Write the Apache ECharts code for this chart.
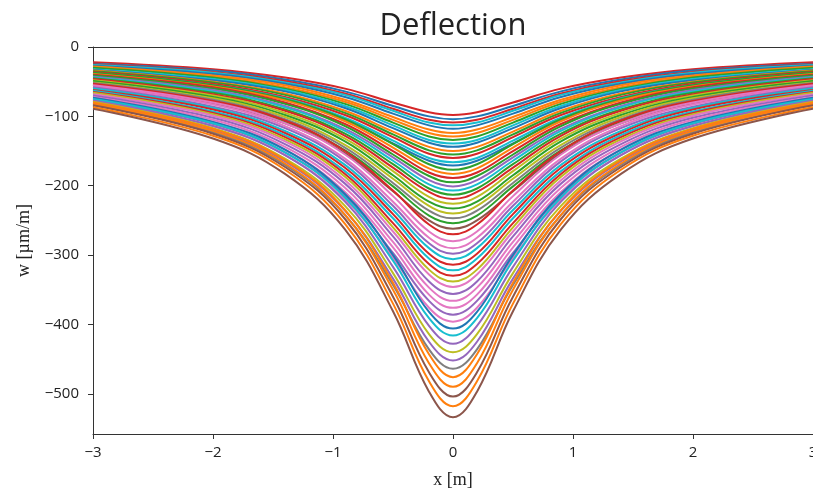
<!DOCTYPE html>
<html><head><meta charset="utf-8">
<script src="https://cdn.jsdelivr.net/npm/echarts@6/dist/echarts.min.js"></script>
<style>html,body{margin:0;padding:0;background:#fff}#c{width:813px;height:489px}</style>
</head><body><div id="c"></div>
<script>
// x positions (m) at which each deflection curve was read
const xPoints = [-3, -2, -1.4, -0.9, -0.5, -0.2, 0, 0.2, 0.5, 0.9, 1.4, 2, 3];
const xTickValues = [-3, -2, -1, 0, 1, 2, 3];
const yTickValues = [0, -100, -200, -300, -400, -500];

// deflection w [µm/m], shallow curves
const wGroupA = [
  [-22,-32,-44,-60,-80,-94,-98,-94,-80,-60,-44,-32,-22],
  [-24,-34,-47,-64,-85,-100,-104,-100,-85,-64,-47,-34,-24],
  [-25,-36,-49,-67,-89,-105,-109,-105,-89,-67,-49,-36,-25],
  [-26,-37,-51,-69,-92,-109,-113,-109,-92,-69,-51,-37,-26],
  [-27,-39,-53,-72,-96,-113,-118,-113,-96,-72,-53,-39,-27],
  [-28,-41,-55,-76,-101,-119,-124,-119,-101,-76,-55,-41,-28],
  [-29,-43,-58,-79,-105,-124,-129,-124,-105,-79,-58,-43,-29],
  [-30,-44,-60,-82,-109,-129,-134,-129,-109,-82,-60,-44,-30],
  [-32,-46,-62,-85,-113,-134,-139,-134,-113,-85,-62,-46,-32],
  [-33,-48,-64,-88,-117,-138,-144,-138,-117,-88,-64,-48,-33],
  [-34,-50,-67,-92,-122,-144,-150,-144,-122,-92,-67,-50,-34],
  [-35,-51,-69,-95,-126,-149,-155,-149,-126,-95,-69,-51,-35],
  [-36,-53,-72,-98,-130,-154,-160,-154,-130,-98,-72,-53,-36],
  [-38,-55,-74,-102,-135,-160,-166,-160,-135,-102,-74,-55,-38],
  [-39,-56,-76,-105,-139,-164,-171,-164,-139,-105,-76,-56,-39]
];
const wGroupB = [
  [-37,-55,-75,-104,-140,-169,-177,-169,-140,-104,-75,-55,-37],
  [-39,-57,-77,-107,-145,-175,-183,-175,-145,-107,-77,-57,-39],
  [-40,-58,-80,-111,-150,-181,-189,-181,-150,-111,-80,-58,-40],
  [-41,-60,-82,-114,-155,-186,-195,-186,-155,-114,-82,-60,-41],
  [-43,-62,-85,-118,-159,-192,-201,-192,-159,-118,-85,-62,-43],
  [-44,-64,-87,-121,-164,-198,-207,-198,-164,-121,-87,-64,-44],
  [-45,-66,-90,-125,-169,-204,-213,-204,-169,-125,-90,-66,-45],
  [-46,-68,-92,-128,-174,-209,-219,-209,-174,-128,-92,-68,-46],
  [-48,-70,-95,-132,-179,-216,-226,-216,-179,-132,-95,-70,-48],
  [-49,-72,-98,-136,-185,-223,-233,-223,-185,-136,-98,-72,-49],
  [-51,-74,-101,-141,-190,-229,-240,-229,-190,-141,-101,-74,-51],
  [-52,-76,-104,-145,-196,-236,-247,-236,-196,-145,-104,-76,-52],
  [-54,-79,-107,-149,-201,-243,-254,-243,-201,-149,-107,-79,-54],
  [-55,-81,-110,-153,-208,-250,-262,-250,-208,-153,-110,-81,-55]
];
const wGroupC = [
  [-53,-78,-106,-150,-207,-256,-270,-256,-207,-150,-106,-78,-53],
  [-55,-80,-110,-155,-215,-266,-280,-266,-215,-155,-110,-80,-55],
  [-57,-83,-114,-161,-223,-275,-290,-275,-223,-161,-114,-83,-57],
  [-58,-86,-117,-165,-229,-283,-298,-283,-229,-165,-117,-86,-58],
  [-60,-88,-121,-170,-235,-290,-306,-290,-235,-170,-121,-88,-60],
  [-62,-90,-124,-174,-241,-298,-314,-298,-241,-174,-124,-90,-62],
  [-63,-93,-127,-179,-247,-305,-322,-305,-247,-179,-127,-93,-63],
  [-65,-95,-130,-183,-254,-313,-330,-313,-254,-183,-130,-95,-65],
  [-66,-97,-133,-187,-260,-321,-338,-321,-260,-187,-133,-97,-66],
  [-68,-99,-136,-192,-266,-328,-346,-328,-266,-192,-136,-99,-68],
  [-70,-102,-140,-197,-273,-338,-356,-338,-273,-197,-140,-102,-70],
  [-72,-105,-144,-203,-281,-347,-366,-347,-281,-203,-144,-105,-72],
  [-74,-108,-148,-209,-289,-357,-376,-357,-289,-209,-148,-108,-74],
  [-76,-111,-152,-214,-297,-366,-386,-366,-297,-214,-152,-111,-76],
  [-78,-114,-156,-220,-304,-376,-396,-376,-304,-220,-156,-114,-78]
];
const wGroupD = [
  [-73,-108,-148,-212,-300,-382,-406,-382,-300,-212,-148,-108,-73],
  [-75,-110,-152,-217,-308,-391,-416,-391,-308,-217,-152,-110,-75],
  [-77,-114,-156,-223,-317,-402,-428,-402,-317,-223,-156,-114,-77],
  [-79,-117,-161,-229,-326,-414,-440,-414,-326,-229,-161,-117,-79],
  [-81,-120,-165,-236,-334,-425,-452,-425,-334,-236,-165,-120,-81],
  [-84,-123,-170,-242,-343,-436,-464,-436,-343,-242,-170,-123,-84]
];
const wGroupE = [
  [-80,-118,-163,-235,-340,-443,-476,-443,-340,-235,-163,-118,-80],
  [-82,-121,-168,-242,-350,-456,-490,-456,-350,-242,-168,-121,-82],
  [-84,-125,-173,-248,-360,-469,-504,-469,-360,-248,-173,-125,-84],
  [-87,-128,-177,-255,-370,-482,-518,-482,-370,-255,-177,-128,-87],
  [-89,-132,-183,-263,-381,-497,-534,-497,-381,-263,-183,-132,-89]
];

// matplotlib tab10 palette and the palette slot used by each curve
const tab10 = ['#1f77b4','#ff7f0e','#2ca02c','#d62728','#9467bd','#8c564b','#e377c2','#7f7f7f','#bcbd22','#17becf'];
const curveColorIdx = [3,0,3,9,0,1,1,2,9,0,1,2,3,9,0,
                       2,1,3,2,4,9,2,3,8,2,8,7,2,5,
                       3,6,6,4,9,3,9,3,8,6,4,6,6,4,6,
                       0,9,4,8,4,7,
                       1,1,5,1,5];

const curves = [].concat(wGroupA, wGroupB, wGroupC, wGroupD, wGroupE);
const minus = v => String(v).replace('-', '\u2212');

const series = curves.map((row, i) => ({
  type: 'line',
  data: row.map((v, j) => [xPoints[j], v]),
  showSymbol: false,
  smooth: 0.4,
  silent: true,
  lineStyle: { width: 2, color: tab10[curveColorIdx[i]] },
  itemStyle: { color: tab10[curveColorIdx[i]] }
}));

const chart = echarts.init(document.getElementById('c'), null, { renderer: 'canvas' });
chart.setOption({
  animation: false,
  backgroundColor: '#ffffff',
  grid: { left: 93, right: 0, top: 47, bottom: 55, outerBoundsMode: 'none', containLabel: false },
  graphic: [{
    type: 'text', x: 453, y: 26,
    style: { text: 'Deflection', align: 'center', verticalAlign: 'middle',
             font: '31px "Open Sans"', fill: '#222' }
  }],
  xAxis: [{
    type: 'value', min: -3, max: 3, interval: 1, position: 'bottom',
    axisLine: { show: true, onZero: false, lineStyle: { color: '#333', width: 1 } },
    axisTick: { show: true, length: 5, lineStyle: { color: '#333' } },
    axisLabel: { formatter: minus, color: '#222', fontSize: 15, fontFamily: 'Open Sans', margin: 11 },
    splitLine: { show: false },
    name: 'x [m]', nameLocation: 'middle', nameGap: 37,
    nameTextStyle: { fontFamily: 'Liberation Serif', fontSize: 18, color: '#222' }
  }, {
    type: 'value', min: -3, max: 3, position: 'top',
    axisLine: { show: true, onZero: false, lineStyle: { color: '#333', width: 1 } },
    axisTick: { show: false }, axisLabel: { show: false }, splitLine: { show: false }
  }],
  yAxis: {
    type: 'value', min: -558, max: 0,
    axisLine: { show: true, onZero: false, lineStyle: { color: '#333', width: 1 } },
    axisTick: { show: true, length: 5, customValues: yTickValues, lineStyle: { color: '#333' } },
    axisLabel: { customValues: yTickValues, formatter: minus, color: '#222', fontSize: 15,
                 fontFamily: 'Open Sans', margin: 14 },
    splitLine: { show: false },
    name: 'w [µm/m]', nameLocation: 'middle', nameGap: 60,
    nameTextStyle: { fontFamily: 'Liberation Serif', fontSize: 18, color: '#222' }
  },
  series: series
});
</script></body></html>
